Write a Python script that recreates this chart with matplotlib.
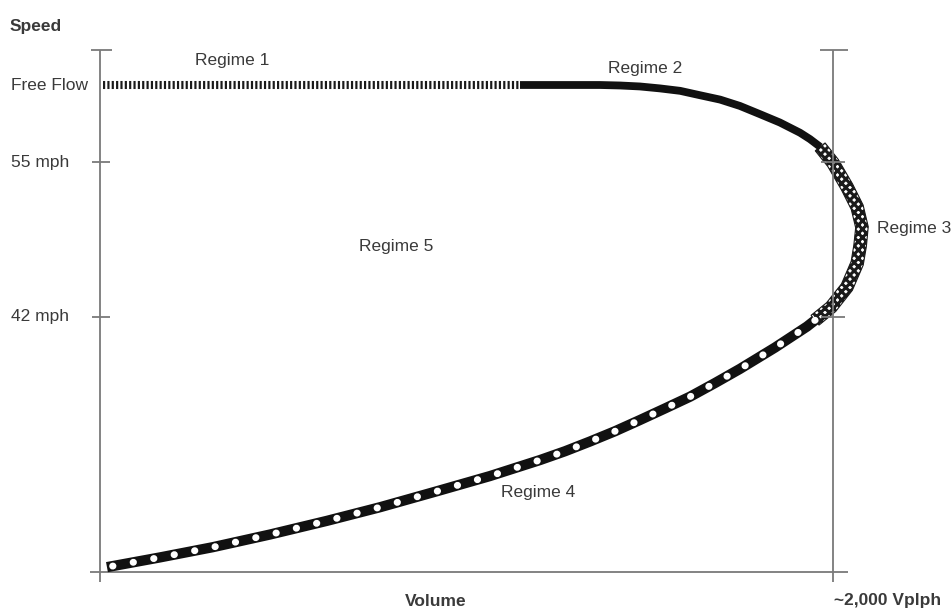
import numpy as np
import matplotlib
matplotlib.use("Agg")
import matplotlib.pyplot as plt
from matplotlib.patches import Polygon

plt.rcParams['font.family'] = ['Liberation Sans', 'DejaVu Sans']
plt.rcParams['hatch.linewidth'] = 2.2

# ---- data (schematic units: volume in vplph, speed as relative position 0-100) ----
r1_volume = [8, 1146]
r1_speed = [100, 100]

r2_volume = [1146, 1255, 1364, 1419, 1473, 1528, 1583, 1637, 1692, 1746, 1801,
             1855, 1910, 1937, 1965]
r2_speed = [100, 100, 100, 99.9, 99.7, 99.3, 98.8, 97.9, 97.0, 95.7, 94.0,
            92.3, 90.2, 88.9, 87.3]

r3_volume = [1965, 2000, 2038, 2066, 2079, 2074, 2066, 2038, 1995, 1951]
r3_speed = [87.3, 84.0, 79.1, 74.9, 70.8, 67.0, 63.4, 58.5, 54.4, 51.7]

r4_volume = [1951, 1929, 1842, 1746, 1678, 1610, 1542, 1473, 1405, 1337, 1269,
             1201, 1064, 920, 764, 619, 464, 308, 164, 19]
r4_speed = [51.7, 50.4, 46.1, 41.7, 38.8, 36.0, 33.6, 31.2, 28.9, 26.8, 24.8,
            23.0, 19.7, 16.6, 13.3, 10.5, 7.7, 5.1, 3.0, 1.0]

speed_tick_pos = [100, 84.2, 52.4]
speed_tick_labels = ["Free Flow", "55 mph", "42 mph"]
capacity_volume = 2000
axis_top = 107.2

regime_labels = ["Regime 1", "Regime 2", "Regime 3", "Regime 4", "Regime 5"]

# ---- figure ----
W, H = 953, 611
fig = plt.figure(figsize=(W / 100, H / 100), dpi=100)
ax = fig.add_axes([100 / W, 39 / H, 733 / W, 487 / H])
ax.set_xlim(0, 2000)
ax.set_ylim(0, 100)
ax.axis('off')

axc = '#7a7a7a'
alw = 1.3
kw = dict(color=axc, lw=alw, clip_on=False, solid_capstyle='butt')
# left (speed) axis
ax.plot([0, 0], [-2.1, axis_top], **kw)
ax.plot([-24, 33], [axis_top, axis_top], **kw)
for p in speed_tick_pos[1:]:
    ax.plot([-22, 27], [p, p], **kw)
# x (volume) axis
ax.plot([-27, 2041], [0, 0], **kw)
# capacity line
ax.plot([capacity_volume, capacity_volume], [-2.1, axis_top], **kw)
ax.plot([1965, 2041], [axis_top, axis_top], **kw)
for p in speed_tick_pos[1:]:
    ax.plot([1967, 2033], [p, p], **kw)

# Regime 1: striped
ax.plot(r1_volume, r1_speed, color='#1a1a1a', lw=5.8, dashes=(0.27, 0.27),
        dash_capstyle='butt', clip_on=False)
# Regime 2: solid
ax.plot(r2_volume, r2_speed, color='#111111', lw=5.6, solid_capstyle='butt',
        solid_joinstyle='round', clip_on=False)

# Regime 3: crosshatched band
fig.canvas.draw()
pts = ax.transData.transform(np.column_stack([r3_volume, r3_speed]))
d = np.gradient(pts, axis=0)
n = np.column_stack([-d[:, 1], d[:, 0]])
n /= np.linalg.norm(n, axis=1)[:, None]
hw = 6.3
outer = pts + n * hw
inner = pts - n * hw
poly_disp = np.vstack([outer, inner[::-1]])
poly = ax.transData.inverted().transform(poly_disp)
ax.add_patch(Polygon(poly, closed=True, facecolor='white', edgecolor='#1a1a1a',
                     hatch='xxxx', lw=0.8, clip_on=False))

# Regime 4: black with white dots
ax.plot(r4_volume, r4_speed, color='#111111', lw=7.4, solid_capstyle='butt',
        solid_joinstyle='round', clip_on=False)
ax.plot(r4_volume, r4_speed, color='white', lw=5.0, dashes=(0.05, 2.95),
        dash_capstyle='round', clip_on=False)

# ---- text ----
tc = '#3a3a3a'
fs = 12.5

def px(x, y):
    return x / W, 1 - y / H

fig.text(*px(10, 26), "Speed", fontsize=fs, fontweight='bold', color=tc, va='center', ha='left')
tick_y = [85, 162, 317]
for lab, yy in zip(speed_tick_labels, tick_y):
    fig.text(*px(11, yy), lab, fontsize=fs, color=tc, va='center', ha='left')

fig.text(*px(232, 61), regime_labels[0], fontsize=fs, color=tc, va='center', ha='center')
fig.text(*px(645, 69), regime_labels[1], fontsize=fs, color=tc, va='center', ha='center')
fig.text(*px(877, 229), regime_labels[2], fontsize=fs, color=tc, va='center', ha='left')
fig.text(*px(538, 493), regime_labels[3], fontsize=fs, color=tc, va='center', ha='center')
fig.text(*px(396, 247), regime_labels[4], fontsize=fs, color=tc, va='center', ha='center')

fig.text(*px(436, 601), "Volume", fontsize=fs, fontweight='bold', color=tc, va='center', ha='center')
fig.text(*px(888, 601), "~2,000 Vplph", fontsize=fs, fontweight='bold', color=tc, va='center', ha='center')

fig.savefig("out.png", dpi=100)
